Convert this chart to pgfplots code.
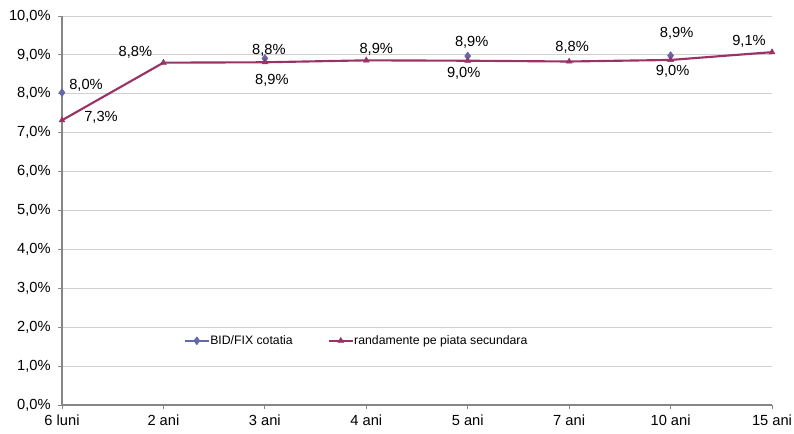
\documentclass[border=0pt]{standalone}
\usepackage{fontspec}
\setmainfont{Liberation Sans}
\usepackage{pgfplots}
\usepackage{pgfplotstable}
\pgfplotsset{compat=1.18}
\definecolor{bidblue}{HTML}{6666AA}
\definecolor{randred}{HTML}{993366}
\definecolor{gridgray}{HTML}{D0D0D0}
\definecolor{axisgray}{HTML}{868686}

% x y label dx dy  (offsets of label from point, px)
\pgfplotstableread{
x y lbl dx dy
0 7.32 7.3 39 3
1 8.80 8.8 -28 10
2 8.81 8.8 4 12
3 8.86 8.9 10 11
4 8.85 8.9 4 18
5 8.83 8.8 3 14
6 8.87 8.9 6 27
7 9.07 9.1 -23 11
}\randtable

\pgfplotstableread{
x y lbl dx dy
0 8.03 8.0 24 7
1 nan 0 0 0
2 8.91 8.9 7 -22
3 nan 0 0 0
4 8.97 9.0 -4 -17
5 nan 0 0 0
6 8.98 9.0 2 -16
7 nan 0 0 0
}\bidtable

\begin{document}
\begin{tikzpicture}
\begin{axis}[
  scale only axis,
  width=532.5pt, height=291.75pt,
  xmin=0, xmax=7, ymin=0, ymax=10,
  xtick={0,...,7},
  xticklabels={6 luni,2 ani,3 ani,4 ani,5 ani,7 ani,10 ani,15 ani},
  ytick={0,1,...,10},
  yticklabel={\pgfmathprintnumber[fixed,fixed zerofill,precision=1,use comma]{\tick}\%},
  /pgf/number format/assume math mode=true,
  axis x line*=bottom, axis y line*=left,
  axis line style={draw=axisgray, line width=0.8pt, -},
  tick style={draw=axisgray, line width=0.6pt},
  tick align=outside, major tick length=3pt,
  ymajorgrids, grid style={draw=gridgray, line width=0.6pt},
  tick label style={font=\fontsize{11}{13}\selectfont},
  yticklabel style={xshift=-2pt},
  xticklabel style={yshift=-1pt},
  clip=false,
  unbounded coords=jump,
  legend columns=2,
  legend style={draw=none, fill=none, at={(0.166,0.165)}, anchor=west,
    font=\fontsize{9.2}{11}\selectfont,
    nodes={inner xsep=0.5pt},
    /tikz/every even column/.append style={column sep=26pt}},
  legend image code/.code={
    \draw[#1, line width=1.1pt, mark repeat=2, mark phase=2] plot coordinates {(0pt,0pt) (9pt,0pt) (18pt,0pt)};},
  nodes near coords={\pgfmathprintnumber[fixed,fixed zerofill,precision=1,use comma]{\pgfplotspointmeta}\%},
  point meta=explicit,
  visualization depends on={\thisrow{dx} \as \dx},
  visualization depends on={\thisrow{dy} \as \dy},
  every node near coord/.append style={anchor=center, text=black,
    font=\fontsize{11}{13}\selectfont, xshift=\dx*0.75pt, yshift=\dy*0.75pt},
]
\addplot[color=bidblue, line width=1.5pt, mark=diamond*, mark size=3pt,
  mark options={fill=bidblue, draw=bidblue, line width=0.4pt}]
  table[x=x, y=y, meta=lbl] {\bidtable};
\addlegendentry{BID/FIX cotatia}
\addplot[color=randred, line width=1.6pt, mark=triangle*, mark size=2.5pt,
  mark options={fill=randred, draw=randred, line width=0.4pt}]
  table[x=x, y=y, meta=lbl] {\randtable};
\addlegendentry{randamente pe piata secundara}
\end{axis}
\pgfresetboundingbox
\path[use as bounding box] ([xshift=-46.5pt,yshift=-21.75pt]current axis.south west)
  rectangle ([xshift=16.5pt,yshift=12pt]current axis.north east);
\end{tikzpicture}
\end{document}
